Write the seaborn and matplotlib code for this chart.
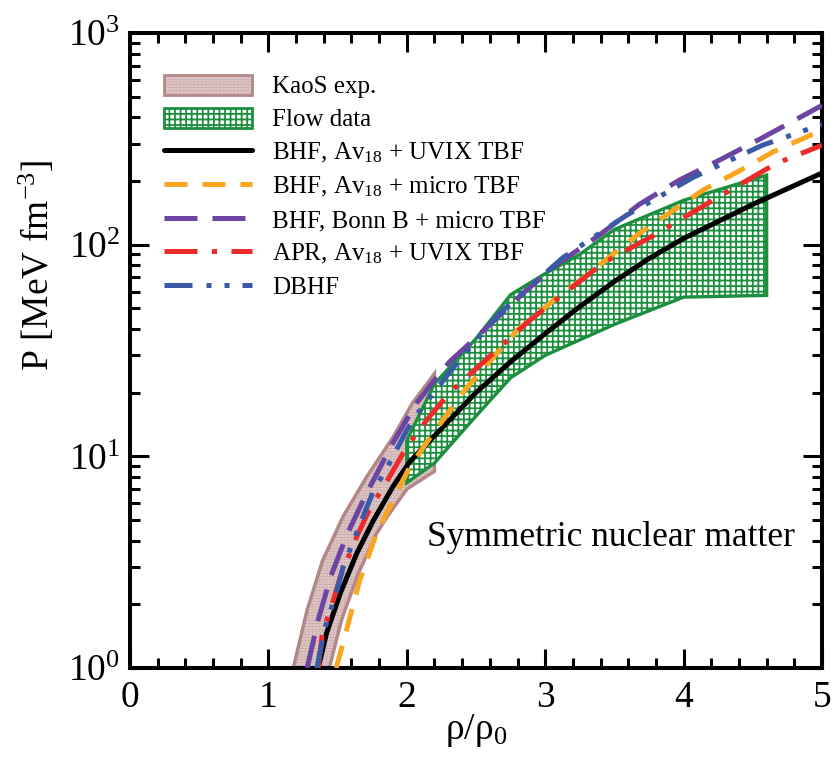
import numpy as np
import pandas as pd
import matplotlib
matplotlib.use("Agg")
import matplotlib.pyplot as plt
import matplotlib.patches as mpatches
from matplotlib.lines import Line2D
from matplotlib.legend_handler import HandlerTuple
from matplotlib.ticker import MultipleLocator, LogLocator, NullFormatter
import seaborn as sns

# ---------------- data ----------------
kaos_up_x = [1.18, 1.28, 1.39, 1.54, 1.71, 1.90, 2.04, 2.20]
kaos_up_y = [1.0, 1.88, 3.2, 5.2, 8.0, 12.3, 17.8, 24.6]
kaos_lo_x = [1.44, 1.53, 1.65, 1.78, 1.86, 2.00, 2.20]
kaos_lo_y = [1.0, 1.7, 2.8, 4.3, 5.2, 7.0, 8.5]

flow_up_x = [2.0, 2.2, 2.5, 2.75, 3.0, 3.25, 3.5, 4.0, 4.6]
flow_up_y = [11.9, 22, 36, 58, 73, 90, 118, 162, 213]
flow_lo_x = [2.0, 2.2, 2.5, 2.75, 3.0, 3.5, 4.0, 4.6]
flow_lo_y = [7.5, 9.3, 15.5, 23.5, 30, 42, 56.5, 57.6]

bhf_uvix_x = [1.36, 1.42, 1.52, 1.64, 1.76, 1.90, 2.02, 2.20, 2.50, 2.75, 3.00, 3.25, 3.50, 3.75, 4.00, 4.50, 5.00]
bhf_uvix_y = [1.0, 1.46, 2.26, 3.5, 5.0, 7.2, 9.4, 12.5, 20, 28, 38, 51, 67, 86, 107, 155, 218]

bhf_micro_x = [1.49, 1.57, 1.66, 1.78, 1.90, 2.02, 2.17, 2.43, 2.80, 3.09, 3.23, 3.68, 4.14, 4.38, 4.65, 4.89, 5.00]
bhf_micro_y = [1.0, 1.56, 2.6, 4.3, 6.2, 8.9, 12.3, 21, 39.6, 56.6, 66, 113, 181, 219, 275, 323, 350]

bonn_x = [1.28, 1.36, 1.45, 1.57, 1.71, 1.90, 2.07, 2.19, 2.31, 2.55, 2.84, 3.09, 3.40, 3.68, 3.97, 4.28, 4.55, 5.00]
bonn_y = [1.0, 1.69, 2.7, 4.3, 6.7, 11.6, 17.8, 22.5, 28, 39, 59, 81, 112, 155, 202, 255, 315, 455]

apr_x = [1.36, 1.39, 1.46, 1.52, 1.64, 1.73, 1.86, 2.00, 2.15, 2.31, 2.65, 2.89, 3.42, 3.81, 4.21, 4.67, 5.00]
apr_y = [1.0, 1.46, 2.0, 2.7, 4.2, 5.6, 7.7, 11.1, 15, 20, 31.8, 44, 82, 113, 162, 242, 295]

dbhf_x = [1.35, 1.41, 1.49, 1.54, 1.64, 1.76, 1.86, 2.00, 2.07, 2.36, 2.67, 3.13, 3.59, 4.07, 4.57, 5.00]
dbhf_y = [1.0, 1.56, 2.26, 3.0, 4.4, 6.9, 8.9, 13.3, 15.7, 27.5, 47.4, 87, 138, 208, 295, 370]

labels = ["KaoS exp.", "Flow data",
          r"BHF, Av$_{18}$ + UVIX TBF",
          r"BHF, Av$_{18}$ + micro TBF",
          r"BHF, Bonn B + micro TBF",
          r"APR, Av$_{18}$ + UVIX TBF",
          "DBHF"]

x_ticks = [0, 1, 2, 3, 4, 5]

# ---------------- style ----------------
sns.set_theme(style="ticks")
plt.rcParams["font.family"] = ["Liberation Serif", "DejaVu Serif"]
plt.rcParams["mathtext.fontset"] = "custom"
plt.rcParams["mathtext.rm"] = "Liberation Serif"
plt.rcParams["mathtext.it"] = "Liberation Serif:italic"
plt.rcParams["mathtext.bf"] = "Liberation Serif:bold"
plt.rcParams["hatch.linewidth"] = 1.3
for k in ["text.color", "axes.labelcolor", "xtick.color", "ytick.color",
          "axes.edgecolor", "xtick.labelcolor", "ytick.labelcolor"]:
    plt.rcParams[k] = "black"

KAOS_FC = "#c29e9e"
KAOS_EC = "#b38787"
FLOW_C = "#1b8f3e"
C_BLACK = "#000000"
C_ORANGE = "#f9a51f"
C_PURPLE = "#6b45a1"
C_RED = "#ee2b2b"
C_BLUE = "#3a5aa8"
LW = 3.6

fig = plt.figure(figsize=(8.34, 7.62), dpi=100)
ax = fig.add_axes([130 / 834, 94 / 762, 692 / 834, 635 / 762])

# KaoS band
kx = np.concatenate([kaos_up_x, kaos_lo_x[::-1]])
ky = np.concatenate([kaos_up_y, kaos_lo_y[::-1]])
ax.fill(kx, ky, facecolor=KAOS_FC, edgecolor="#efe2e2", hatch="......", lw=0, zorder=1)
ax.fill(kx, ky, facecolor="none", edgecolor=KAOS_EC, lw=2.5, zorder=1.1)

# Flow band
fx = np.concatenate([flow_up_x, flow_lo_x[::-1]])
fy = np.concatenate([flow_up_y, flow_lo_y[::-1]])
ax.fill(fx, fy, facecolor="white", edgecolor=FLOW_C, hatch="+++", lw=0, zorder=2)
ax.fill(fx, fy, facecolor="none", edgecolor=FLOW_C, lw=2.4, zorder=2.1)

curves = [
    (bhf_uvix_x, bhf_uvix_y, C_BLACK, "-"),
    (bhf_micro_x, bhf_micro_y, C_ORANGE, (0, (4.6, 3.0))),
    (bonn_x, bonn_y, C_PURPLE, (0, (6.6, 3.0))),
    (apr_x, apr_y, C_RED, (0, (6.6, 2.9, 1.0, 2.9))),
    (dbhf_x, dbhf_y, C_BLUE, (0, (5.6, 2.8, 1.0, 2.6, 1.0, 2.6))),
]
line_handles = []
for cx, cy, col, ls in curves:
    df = pd.DataFrame({"x": cx, "y": cy})
    sns.lineplot(data=df, x="x", y="y", ax=ax, color=col, lw=LW, linestyle=ls,
                 sort=False, estimator=None, zorder=3)
    line_handles.append(Line2D([], [], color=col, lw=LW, linestyle=ls))

ax.set_yscale("log")
ax.set_xlim(0, 5)
ax.set_ylim(1, 1000)
ax.set_xticks(x_ticks)
ax.xaxis.set_minor_locator(MultipleLocator(0.2))
ax.yaxis.set_major_locator(LogLocator(base=10, numticks=10))
ax.yaxis.set_minor_locator(LogLocator(base=10, subs=np.arange(2, 10), numticks=20))
ax.yaxis.set_minor_formatter(NullFormatter())

for s in ax.spines.values():
    s.set_linewidth(2.9)
    s.set_color("black")
ax.tick_params(which="both", direction="in", top=True, right=True, colors="black")
ax.tick_params(which="major", length=14, width=2.2, labelsize=27)
ax.tick_params(which="minor", length=7, width=2.2)
ax.tick_params(axis="x", which="major", pad=9)
ax.tick_params(axis="y", which="major", pad=7)

ax.set_xlabel("ρ/ρ$_0$", fontsize=27)
ax.set_ylabel(r"P [MeV fm$^{-3}$]", fontsize=27)
ax.yaxis.set_label_coords(-0.105, 0.635)
ax.xaxis.set_label_coords(0.5, -0.07)

ax.text(0.695, 0.192, "Symmetric nuclear matter", transform=ax.transAxes,
        fontsize=25.5, ha="center", va="baseline")

# legend
kaos_h = (mpatches.Patch(facecolor=KAOS_FC, edgecolor="#efe2e2", hatch="......", lw=0),
          mpatches.Patch(facecolor="none", edgecolor=KAOS_EC, lw=2.0))
flow_h = (mpatches.Patch(facecolor="white", edgecolor=FLOW_C, hatch="+++", lw=0),
          mpatches.Patch(facecolor="none", edgecolor=FLOW_C, lw=2.0))
handles = [kaos_h, flow_h] + line_handles
leg = ax.legend(handles, labels, loc="upper left", bbox_to_anchor=(0.035, 0.95),
                frameon=False, fontsize=18, handlelength=3.5, handleheight=0.85,
                handletextpad=0.8, labelspacing=0.38, borderaxespad=0,
                handler_map={tuple: HandlerTuple(ndivide=1, pad=0)})

fig.savefig("out.png", dpi=100)
